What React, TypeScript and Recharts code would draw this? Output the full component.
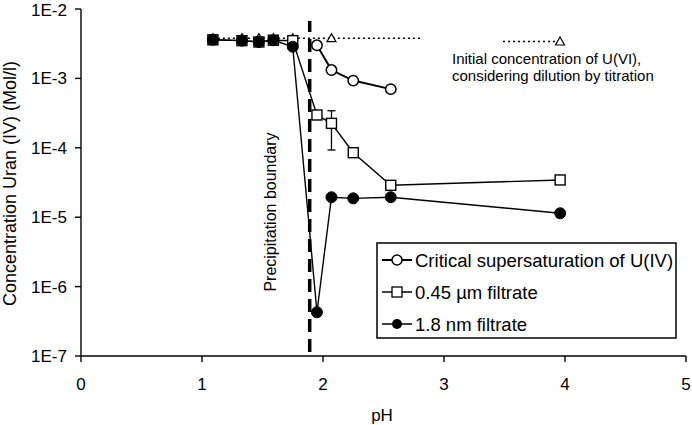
import React from 'react';
import { ComposedChart, Scatter, XAxis, YAxis, ReferenceLine, Legend, ErrorBar } from 'recharts';

// ---- data ----
const criticalPH = [1.95, 2.07, 2.25, 2.56];
const criticalConc = [3.0e-3, 1.32e-3, 9.3e-4, 7.0e-4];

const filt045PH = [1.09, 1.33, 1.47, 1.59, 1.75, 1.95, 2.07, 2.25, 2.56, 3.96];
const filt045Conc = [3.6e-3, 3.5e-3, 3.35e-3, 3.55e-3, 3.5e-3, 2.97e-4, 2.25e-4, 8.5e-5, 2.88e-5, 3.44e-5];
const filt045ErrLow = [null, null, null, null, null, null, 1.32e-4, null, null, null];
const filt045ErrHigh = [null, null, null, null, null, null, 1.17e-4, null, null, null];

const filt18PH = [1.09, 1.33, 1.47, 1.59, 1.75, 1.95, 2.07, 2.25, 2.56, 3.96];
const filt18Conc = [3.6e-3, 3.5e-3, 3.35e-3, 3.55e-3, 2.86e-3, 4.27e-7, 1.94e-5, 1.87e-5, 1.94e-5, 1.14e-5];

const initialPH = [1.09, 1.33, 1.47, 1.59, 1.75, 2.07, 2.81];
const initialConc = [3.8e-3, 3.8e-3, 3.8e-3, 3.8e-3, 3.8e-3, 3.8e-3, 3.8e-3];
const initialMarker = [true, true, true, true, true, true, false];

const xTicks = [0, 1, 2, 3, 4, 5];
const yTicks = [1e-7, 1e-6, 1e-5, 1e-4, 1e-3, 1e-2];
const boundaryPH = 1.89;

const legendNames = ['Critical supersaturation of U(IV)', '0.45 \u00b5m filtrate', '1.8 nm filtrate'];
const annotationLines = ['Initial concentration of U(VI),', 'considering dilution by titration'];
const xLabel = 'pH';
const yLabel = 'Concentration Uran (IV) (Mol/l)';
const boundaryLabel = 'Precipitation boundary';

// ---- derived tables ----
const criticalData = criticalPH.map((x, i) => ({ x, y: criticalConc[i] }));
const filt045Data = filt045PH.map((x, i) => ({
  x,
  y: filt045Conc[i],
  err: filt045ErrLow[i] == null ? null : [filt045ErrLow[i], filt045ErrHigh[i]],
}));
const filt18Data = filt18PH.map((x, i) => ({ x, y: filt18Conc[i] }));
const initialData = initialPH.map((x, i) => ({ x, y: initialConc[i], marker: initialMarker[i] }));

const FONT = '"Liberation Sans", Arial, Helvetica, sans-serif';

const fmtY = (v: number) => `1E${Math.round(Math.log10(v))}`;

const OpenSquare = (p: any) => (
  <rect x={p.cx - 5} y={p.cy - 5} width={10} height={10} fill="#fff" stroke="#000" strokeWidth={1.4} />
);
const OpenCircle = (p: any) => <circle cx={p.cx} cy={p.cy} r={5.2} fill="#fff" stroke="#000" strokeWidth={1.5} />;
const FilledCircle = (p: any) => <circle cx={p.cx} cy={p.cy} r={5.5} fill="#000" stroke="#000" strokeWidth={1} />;
const Triangle = (p: any) =>
  p.payload && p.payload.marker ? (
    <path
      d={`M${p.cx},${p.cy - 4.5} L${p.cx + 4.5},${p.cy + 3.5} L${p.cx - 4.5},${p.cy + 3.5} Z`}
      fill="#fff"
      stroke="#000"
      strokeWidth={1.2}
    />
  ) : (
    <g />
  );

const Boundary = (p: any) => {
  const x = p.x1;
  return (
    <g>
      <line x1={x} y1={p.y1 - 4} x2={x} y2={p.y2 + 12} stroke="#000" strokeWidth={3.5} strokeDasharray="13 7" />
      <text
        x={x - 39.5}
        y={212}
        transform={`rotate(-90, ${x - 39.5}, 212)`}
        textAnchor="middle"
        dominantBaseline="central"
        fontFamily={FONT}
        fontSize={16}
        fill="#000"
      >
        {boundaryLabel}
      </text>
    </g>
  );
};

const LegendContent = () => {
  const rows = [260, 292, 324];
  return (
    <svg width={692} height={425} style={{ position: 'absolute', left: 0, top: 0 }}>
      {/* annotation for the initial concentration series */}
      <line x1={503} y1={41.5} x2={555} y2={41.5} stroke="#000" strokeWidth={1.5} strokeDasharray="2 3" />
      <path d="M560,37 L564.5,45 L555.5,45 Z" fill="#fff" stroke="#000" strokeWidth={1.2} />
      <text x={452} y={64} fontFamily={FONT} fontSize={15} fill="#000">
        {annotationLines[0]}
      </text>
      <text x={452} y={80.5} fontFamily={FONT} fontSize={15} fill="#000">
        {annotationLines[1]}
      </text>
      {/* legend box */}
      <rect x={377} y={243} width={299} height={95} fill="#fff" stroke="#000" strokeWidth={1.5} />
      {rows.map((ry, i) => (
        <g key={i}>
          <line x1={382} y1={ry} x2={412} y2={ry} stroke="#000" strokeWidth={i === 0 ? 2 : 1.5} />
          {i === 0 && <circle cx={397} cy={ry} r={5} fill="#fff" stroke="#000" strokeWidth={1.5} />}
          {i === 1 && <rect x={392} y={ry - 5} width={10} height={10} fill="#fff" stroke="#000" strokeWidth={1.3} />}
          {i === 2 && <circle cx={397} cy={ry} r={5} fill="#000" />}
          <text x={415} y={ry + 6.5} fontFamily={FONT} fontSize={18.5} fill="#000">
            {legendNames[i]}
          </text>
        </g>
      ))}
    </svg>
  );
};

export default function App() {
  return (
    <div style={{ position: 'absolute', left: 0, top: 0, width: 692, height: 425, background: '#fff' }}>
      <ComposedChart width={692} height={425} margin={{ top: 9, right: 6, bottom: 0, left: 0 }}>
        <XAxis
          dataKey="x"
          type="number"
          domain={[0, 5]}
          ticks={xTicks}
          allowDataOverflow
          height={69}
          tickSize={6}
          tickMargin={16}
          axisLine={{ stroke: '#000', strokeWidth: 1.4 }}
          tickLine={{ stroke: '#000', strokeWidth: 1.4 }}
          tick={{ fill: '#000', fontFamily: FONT, fontSize: 17 }}
          label={{
            content: (lp: any) => {
              const vb = lp.viewBox || {};
              return (
                <text
                  x={vb.x + vb.width / 2 - 1.5}
                  y={vb.y + 65}
                  textAnchor="middle"
                  fontFamily={FONT}
                  fontSize={17}
                  fill="#000"
                >
                  {xLabel}
                </text>
              );
            },
          }}
        />
        <XAxis
          xAxisId="top"
          orientation="top"
          type="number"
          domain={[0, 5]}
          height={0}
          tick={false}
          tickLine={false}
          axisLine={{ stroke: '#000', strokeWidth: 1.4 }}
        />
        <YAxis
          dataKey="y"
          type="number"
          scale="log"
          domain={[1e-7, 1e-2]}
          ticks={yTicks}
          allowDataOverflow
          width={81}
          tickSize={6}
          tickMargin={8}
          tickFormatter={fmtY}
          axisLine={{ stroke: '#000', strokeWidth: 1.4 }}
          tickLine={{ stroke: '#000', strokeWidth: 1.4 }}
          tick={{ fill: '#000', fontFamily: FONT, fontSize: 17 }}
          label={{
            content: (lp: any) => {
              const vb = lp.viewBox || {};
              const cx = 10;
              const cy = vb.y + vb.height / 2 + 1;
              return (
                <text
                  x={cx}
                  y={cy}
                  transform={`rotate(-90, ${cx}, ${cy})`}
                  textAnchor="middle"
                  dominantBaseline="central"
                  fontFamily={FONT}
                  fontSize={18}
                  fill="#000"
                >
                  {yLabel}
                </text>
              );
            },
          }}
        />
        <YAxis
          yAxisId="right"
          orientation="right"
          type="number"
          domain={[0, 1]}
          width={0}
          tick={false}
          tickLine={false}
          axisLine={{ stroke: '#000', strokeWidth: 1.4 }}
        />
        <ReferenceLine x={boundaryPH} shape={Boundary} />
        <Scatter
          data={initialData}
          line={{ stroke: '#000', strokeWidth: 1.5, strokeDasharray: '2 3' }}
          lineType="joint"
          shape={Triangle}
          isAnimationActive={false}
        />
        <Scatter
          data={criticalData}
          line={{ stroke: '#000', strokeWidth: 2 }}
          lineType="joint"
          shape={OpenCircle}
          isAnimationActive={false}
        />
        <Scatter
          data={filt045Data}
          line={{ stroke: '#000', strokeWidth: 1.4 }}
          lineType="joint"
          shape={OpenSquare}
          isAnimationActive={false}
        >
          <ErrorBar dataKey="err" direction="y" width={4} stroke="#000" strokeWidth={1.3} />
        </Scatter>
        <Scatter
          data={filt18Data}
          line={{ stroke: '#000', strokeWidth: 1.4 }}
          lineType="joint"
          shape={FilledCircle}
          isAnimationActive={false}
        />
        <Legend
          layout="vertical"
          align="center"
          verticalAlign="middle"
          content={LegendContent}
          wrapperStyle={{ position: 'absolute', left: 0, top: 0, width: 692, height: 425, pointerEvents: 'none' }}
        />
      </ComposedChart>
    </div>
  );
}
